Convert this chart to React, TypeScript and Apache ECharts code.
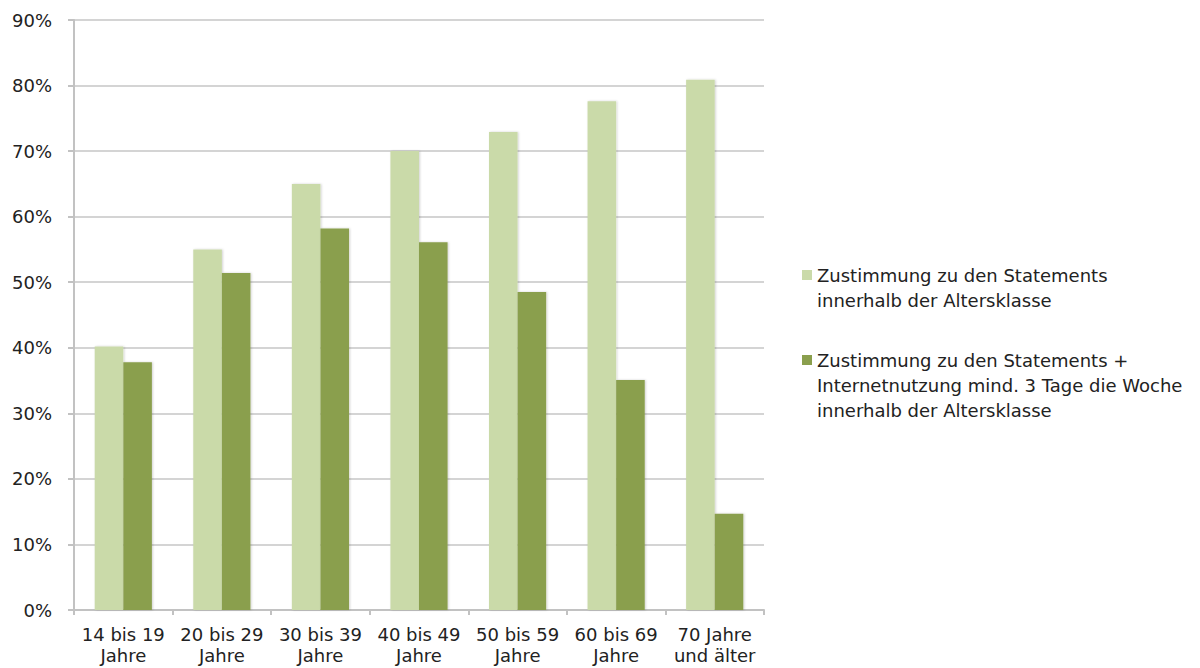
import React, { useEffect, useRef } from "react";
import * as echarts from "echarts";

const categories = [
  "14 bis 19\nJahre",
  "20 bis 29\nJahre",
  "30 bis 39\nJahre",
  "40 bis 49\nJahre",
  "50 bis 59\nJahre",
  "60 bis 69\nJahre",
  "70 Jahre\nund älter",
];

const zustimmung = [40.2, 55, 65, 70, 72.9, 77.6, 80.9];
const zustimmungInternet = [37.8, 51.4, 58.2, 56.1, 48.5, 35.1, 14.7];

const seriesNames = [
  "Zustimmung zu den Statements\ninnerhalb der Altersklasse",
  "Zustimmung zu den Statements +\nInternetnutzung mind. 3 Tage die Woche\ninnerhalb der Altersklasse",
];

const colors = ["#cadaa9", "#8a9f4d"];
const FONT = "DejaVu Sans";

export default function App() {
  const ref = useRef<HTMLDivElement>(null);

  useEffect(() => {
    document.body.style.margin = "0";
    document.body.style.overflow = "hidden";
    if (!ref.current) return;
    const chart = echarts.init(ref.current, undefined, { renderer: "svg" });

    const barStyle = (c: string) => ({
      color: c,
      shadowColor: "rgba(0,0,0,0.18)",
      shadowBlur: 2,
      shadowOffsetX: 1,
      shadowOffsetY: 0,
    });

    chart.setOption({
      animation: false,
      backgroundColor: "#ffffff",
      grid: {
        left: 74,
        right: 436,
        top: 20,
        bottom: 58,
        outerBoundsMode: "none",
      },
      xAxis: {
        type: "category",
        data: categories,
        axisLine: { show: true, lineStyle: { color: "#c2c2c2", width: 2 } },
        axisTick: {
          show: true,
          interval: 0,
          length: 5,
          lineStyle: { color: "#c2c2c2", width: 2 },
        },
        axisLabel: {
          interval: 0,
          margin: 14,
          color: "#222",
          fontFamily: FONT,
          fontSize: 18,
          lineHeight: 21,
        },
      },
      yAxis: {
        type: "value",
        min: 0,
        max: 90,
        interval: 10,
        axisLine: { show: true, lineStyle: { color: "#c2c2c2", width: 2 } },
        axisTick: {
          show: true,
          length: 6,
          lineStyle: { color: "#c2c2c2", width: 2 },
        },
        splitLine: { lineStyle: { color: "#c6c6c6", width: 1.5 } },
        axisLabel: {
          formatter: "{value}%",
          margin: 22,
          color: "#222",
          fontFamily: FONT,
          fontSize: 18,
        },
      },
      series: [
        {
          type: "bar",
          name: seriesNames[0],
          data: zustimmung,
          barGap: "0%",
          barCategoryGap: "42%",
          itemStyle: barStyle(colors[0]),
        },
        {
          type: "bar",
          name: seriesNames[1],
          data: zustimmungInternet,
          barGap: "0%",
          barCategoryGap: "42%",
          itemStyle: barStyle(colors[1]),
        },
      ],
      graphic: [
        { type: "rect", shape: { x: 802, y: 270, width: 10, height: 10 }, style: { fill: colors[0] } },
        {
          type: "text",
          x: 817,
          y: 262.5,
          style: {
            text: seriesNames[0],
            font: `18px "${FONT}"`,
            fill: "#222",
            lineHeight: 25,
            verticalAlign: "top",
          },
        },
        { type: "rect", shape: { x: 802, y: 355, width: 10, height: 10 }, style: { fill: colors[1] } },
        {
          type: "text",
          x: 817,
          y: 347.5,
          style: {
            text: seriesNames[1],
            font: `18px "${FONT}"`,
            fill: "#222",
            lineHeight: 25,
            verticalAlign: "top",
          },
        },
      ],
    });

    return () => chart.dispose();
  }, []);

  return (
    <div
      ref={ref}
      style={{ position: "fixed", left: 0, top: 0, width: 1200, height: 668 }}
    />
  );
}
